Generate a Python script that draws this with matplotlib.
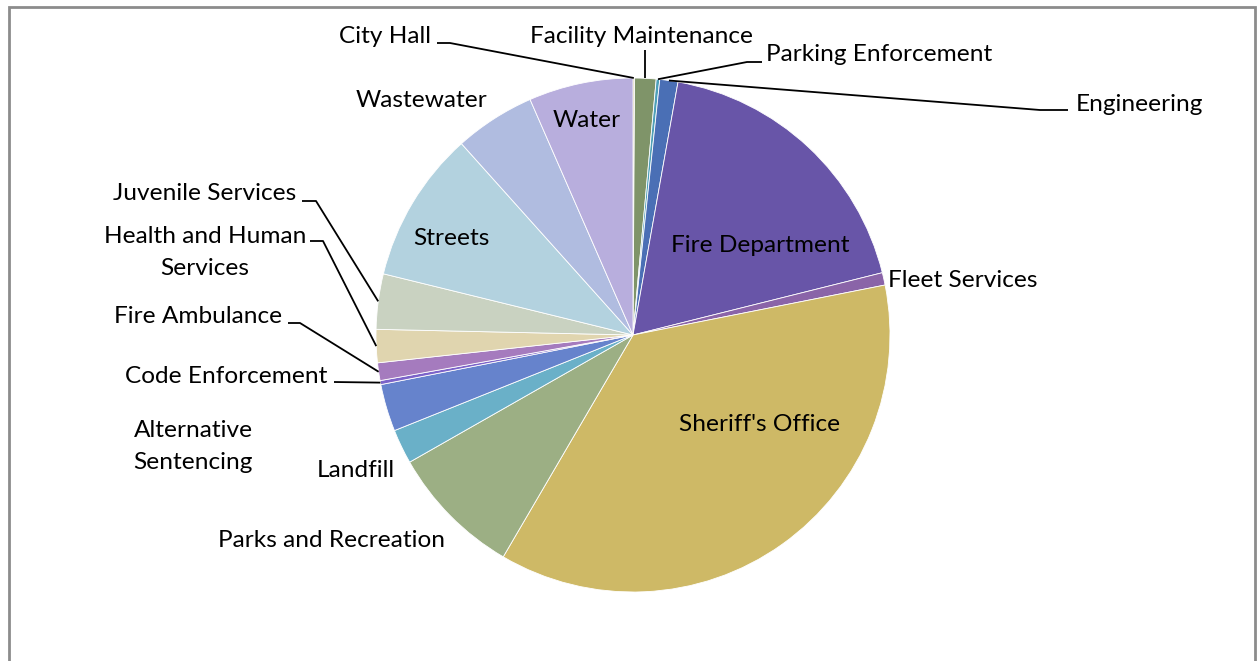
import matplotlib
matplotlib.use('Agg')
import numpy as np
import matplotlib.pyplot as plt
from matplotlib.patches import Rectangle

W, H = 1257, 661

departments = ["City Hall", "Facility Maintenance", "Parking Enforcement", "Engineering",
               "Fire Department", "Fleet Services", "Sheriff's Office", "Parks and Recreation",
               "Landfill", "Alternative Sentencing", "Code Enforcement", "Fire Ambulance",
               "Health and Human Services", "Juvenile Services", "Streets", "Wastewater", "Water"]
shares = [0.10, 1.34, 0.22, 1.14, 18.28, 0.78, 36.50, 8.33, 2.17, 2.97, 0.25, 1.11,
          2.08, 3.47, 9.53, 5.07, 6.55]
colors = ['#C9B98A', '#7F9469', '#4E9FB8', '#4A6FB5', '#6855A8', '#8A64A8', '#CEB966',
          '#9CAF84', '#6AB0C8', '#6683CC', '#7B63C9', '#A57BBE', '#E0D5AF', '#C9D2C1',
          '#B3D2DF', '#B0BCE0', '#B8AEDD']

# label text: (display text, x, y) in pixel coords from top-left
label_pos = {
    "City Hall": ("City Hall", 385, 35),
    "Facility Maintenance": ("Facility Maintenance", 641, 35),
    "Parking Enforcement": ("Parking Enforcement", 879, 53),
    "Engineering": ("Engineering", 1139, 103),
    "Fire Department": ("Fire Department", 760, 244),
    "Fleet Services": ("Fleet Services", 963, 279),
    "Sheriff's Office": ("Sheriff's Office", 760, 423),
    "Parks and Recreation": ("Parks and Recreation", 331, 539),
    "Landfill": ("Landfill", 356, 469),
    "Alternative Sentencing": ("Alternative\nSentencing", 193, 445),
    "Code Enforcement": ("Code Enforcement", 226, 375),
    "Fire Ambulance": ("Fire Ambulance", 198, 315),
    "Health and Human Services": ("Health and Human\nServices", 205, 251),
    "Juvenile Services": ("Juvenile Services", 205, 192),
    "Streets": ("Streets", 451, 237),
    "Wastewater": ("Wastewater", 421, 99),
    "Water": ("Water", 587, 119),
}
# leader line points before reaching the pie edge
leaders = {
    "City Hall": [(437, 43), (450, 43)],
    "Facility Maintenance": [(None, 50)],
    "Parking Enforcement": [(762, 62), (747, 62)],
    "Engineering": [(1068, 110), (1040, 110)],
    "Juvenile Services": [(302, 201), (316, 201)],
    "Health and Human Services": [(310, 241), (323, 241)],
    "Fire Ambulance": [(288, 323), (300, 323)],
    "Code Enforcement": [(334, 382)],
}

cx, cy, R = 633, 335, 257

plt.rcParams['font.family'] = ['Lato', 'DejaVu Sans']
fig = plt.figure(figsize=(W / 100, H / 100), dpi=100)
ax = fig.add_axes([0, 0, 1, 1])

ax.pie(shares, colors=colors, center=(cx, H - cy), radius=R, startangle=90,
       counterclock=False, frame=True,
       wedgeprops=dict(edgecolor='white', linewidth=0.6))
ax.set_xlim(0, W)
ax.set_ylim(0, H)
ax.set_aspect('auto')
ax.axis('off')

vals = np.array(shares)
ends = np.cumsum(vals) / vals.sum() * 360
starts = ends - vals / vals.sum() * 360
mids = (starts + ends) / 2

for name, mid in zip(departments, mids):
    txt, tx, ty = label_pos[name]
    ax.text(tx, H - ty - 1.5, txt, ha='center', va='center', fontsize=17.6,
            color='black', linespacing=1.65)
    if name in leaders:
        a = np.radians(mid)
        ex, ey = cx + R * np.sin(a), cy - R * np.cos(a)
        pts = [(ex if px is None else px, py) for px, py in leaders[name]] + [(ex, ey)]
        xs = [p[0] for p in pts]
        ys = [H - p[1] for p in pts]
        ax.plot(xs, ys, color='black', linewidth=1.3, solid_capstyle='butt')

fig.patches.append(Rectangle((9 / W, -0.1), (1246 / W), (H - 7) / H + 0.1,
                             transform=fig.transFigure, fill=False,
                             edgecolor='#8C8C8C', linewidth=2))

plt.savefig("out.png", dpi=100)
